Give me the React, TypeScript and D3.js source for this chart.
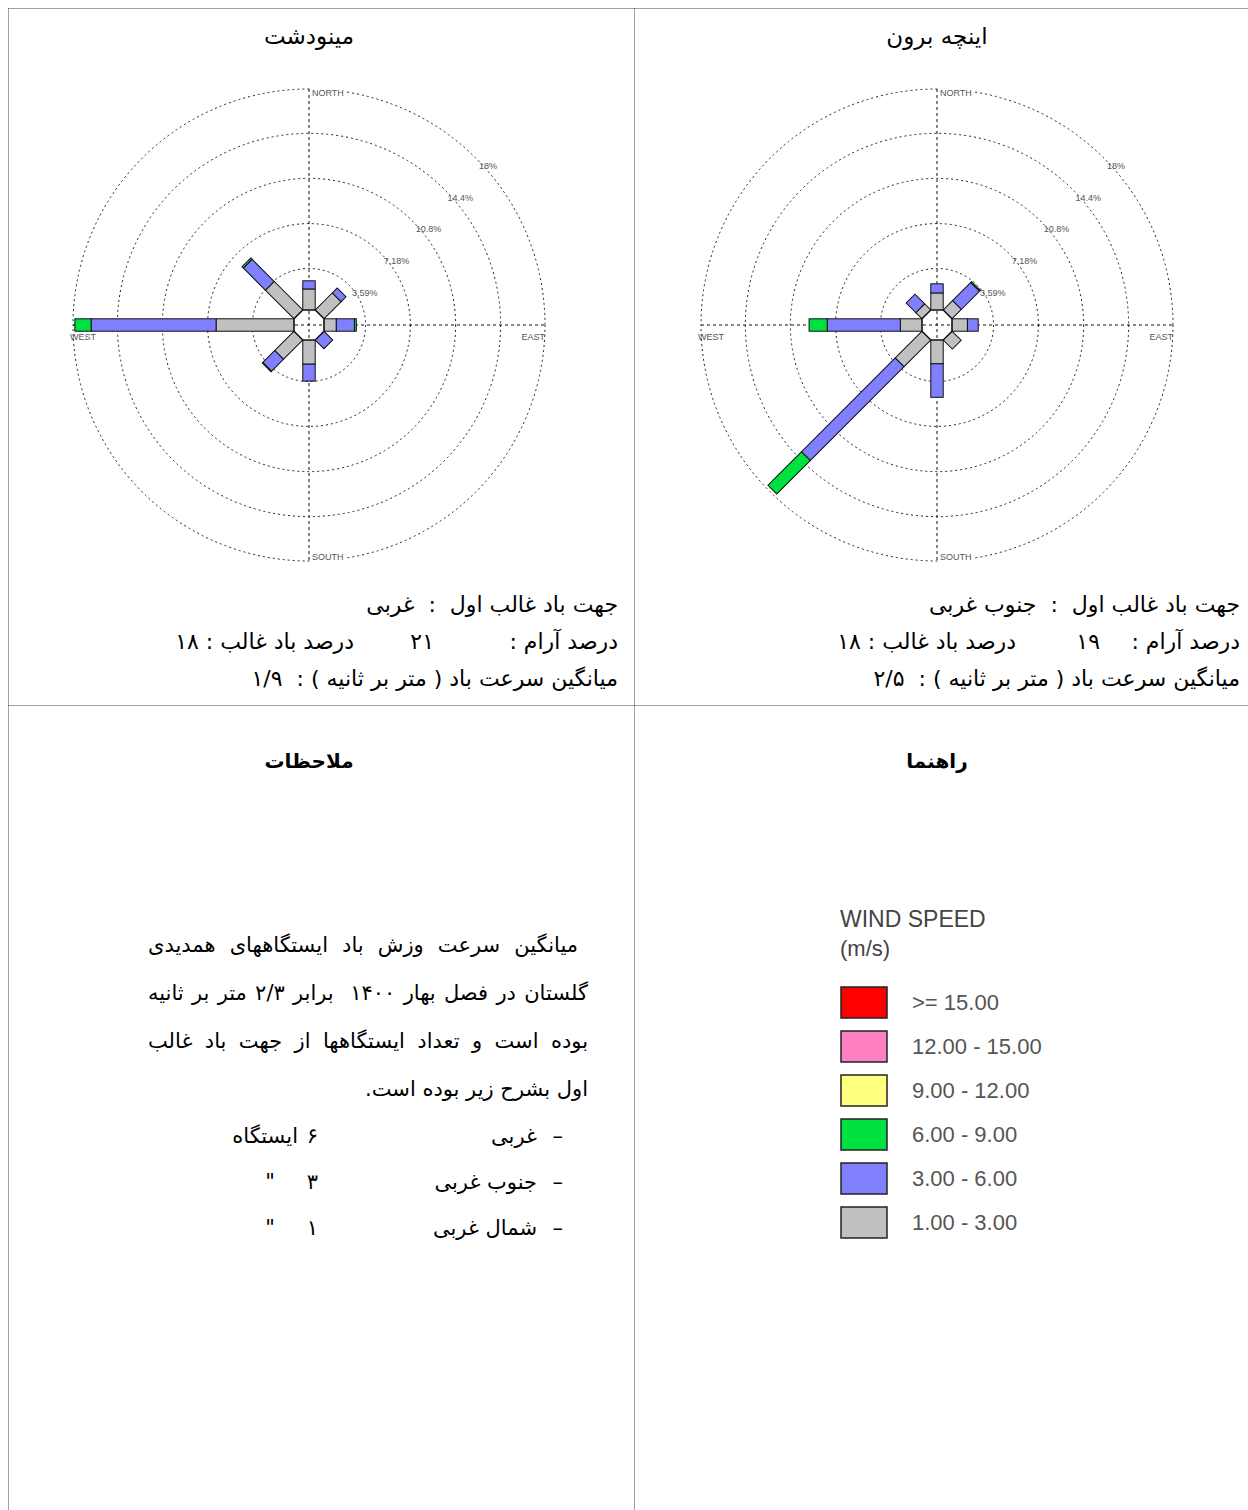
import React, { useEffect, useRef } from "react";
import * as d3 from "d3";

// wind directions, clockwise from north
const directions = ["N", "NE", "E", "SE", "S", "SW", "W", "NW"];
const directionAngles = [0, 45, 90, 135, 180, 225, 270, 315];

// speed classes (m/s) and their colours, slowest first
const speedBins = ["1.00 - 3.00", "3.00 - 6.00", "6.00 - 9.00", "9.00 - 12.00", "12.00 - 15.00", ">= 15.00"];
const speedColors = ["#c0c0c0", "#8080ff", "#00e040", "#ffff80", "#ff80c0", "#ff0000"];

// frequency (%) per direction N..NW for each speed class — Minudasht
const minudashtSlow = [1.95, 2.2, 1.25, 0.2, 2.2, 2.45, 6.5, 3.5];
const minudashtMid = [0.65, 0.55, 1.45, 1.05, 1.35, 1.35, 10.0, 2.5];
const minudashtFast = [0, 0, 0.15, 0, 0, 0.05, 1.3, 0.15];

// Incheh Borun
const inchehSlow = [1.63, 1.33, 1.5, 1.3, 2.17, 3.3, 2.0, 0.96];
const inchehMid = [0.73, 2.05, 0.86, 0, 2.68, 10.6, 5.85, 1.1];
const inchehFast = [0, 0.1, 0, 0, 0, 3.8, 1.45, 0];

const ringTicks = [3.59, 7.18, 10.8, 14.4, 17.95];
const ringLabels = ["3.59%", "7.18%", "10.8%", "14.4%", "18%"];

// station text
const stationNames = ["مینودشت", "اینچه برون"];
const prevailingDir = ["غربی", "جنوب غربی"];
const calmPercent = ["۲۱", "۱۹"];
const prevailingPercent = ["۱۸", "۱۸"];
const meanSpeed = ["۱/۹", "۲/۵"];

const noteLines = [
  "میانگین سرعت وزش باد ایستگاههای همدیدی",
  "گلستان در فصل بهار ۱۴۰۰  برابر ۲/۳ متر بر ثانیه",
  "بوده است و تعداد ایستگاهها از جهت باد غالب",
  "اول بشرح زیر بوده است.",
];
const noteDirections = ["غربی", "جنوب غربی", "شمال غربی"];
const noteCounts = ["۶", "۳", "۱"];
const noteUnits = ["ایستگاه", "\"", "\""];

const FA = "'DejaVu Sans', sans-serif";
const LAT = "'Liberation Sans', Arial, sans-serif";

const rScale = d3.scaleLinear().domain([0, 17.95]).range([11.7, 236]);
const hubApothem = 15;
const barHalf = hubApothem * Math.tan(Math.PI / 8);

type G = d3.Selection<SVGGElement, unknown, null, undefined>;

function drawRose(parent: G, cx: number, cy: number, series: number[][]) {
  const rose = parent.append("g").attr("transform", `translate(${cx},${cy})`);
  const R = rScale(ringTicks[ringTicks.length - 1]);

  rose
    .selectAll("circle.ring")
    .data(ringTicks)
    .join("circle")
    .attr("class", "ring")
    .attr("r", (d) => rScale(d))
    .attr("fill", "none")
    .attr("stroke", "#222")
    .attr("stroke-width", 1)
    .attr("stroke-dasharray", "2,3");

  rose.append("line").attr("x1", -R).attr("x2", R).attr("y1", 0).attr("y2", 0)
    .attr("stroke", "#111").attr("stroke-width", 1).attr("stroke-dasharray", "3,3");
  rose.append("line").attr("x1", 0).attr("x2", 0).attr("y1", -R).attr("y2", R)
    .attr("stroke", "#111").attr("stroke-width", 1).attr("stroke-dasharray", "3,3");

  // ring labels
  rose
    .selectAll("text.ringlab")
    .data(ringTicks)
    .join("text")
    .attr("class", "ringlab")
    .attr("x", (d) => rScale(d) * Math.SQRT1_2 + 3)
    .attr("y", (d) => -rScale(d) * Math.SQRT1_2 + 11)
    .attr("font-family", LAT)
    .attr("font-size", 9)
    .attr("fill", "#555")
    .text((_, i) => ringLabels[i]);

  // compass labels
  const compass = [
    { t: "NORTH", x: 3, y: -R + 7, anchor: "start" },
    { t: "SOUTH", x: 3, y: R - 1, anchor: "start" },
    { t: "WEST", x: -R - 3, y: 15, anchor: "start" },
    { t: "EAST", x: R, y: 15, anchor: "end" },
  ];
  compass.forEach((c) => {
    if (c.t === "NORTH" || c.t === "SOUTH") {
      rose.append("rect").attr("x", c.x - 1).attr("y", c.y - 8).attr("width", 35).attr("height", 10).attr("fill", "#fff");
    }
    rose.append("text").attr("x", c.x).attr("y", c.y).attr("text-anchor", c.anchor)
      .attr("font-family", LAT).attr("font-size", 9).attr("fill", "#555").text(c.t);
  });

  // stacked bars
  directions.forEach((_, i) => {
    const bar = rose.append("g").attr("transform", `rotate(${directionAngles[i]})`);
    let cum = 0;
    series.forEach((vals, k) => {
      const v = vals[i];
      if (!v) return;
      const r1 = Math.max(hubApothem, rScale(cum));
      cum += v;
      const r2 = rScale(cum);
      bar.append("rect")
        .attr("x", -barHalf).attr("y", -r2)
        .attr("width", barHalf * 2).attr("height", r2 - r1)
        .attr("fill", speedColors[k])
        .attr("stroke", "#111").attr("stroke-width", 1);
    });
  });

  // calm hub
  const rv = hubApothem / Math.cos(Math.PI / 8);
  const pts = d3.range(8).map((k) => {
    const a = ((22.5 + 45 * k) * Math.PI) / 180;
    return [rv * Math.sin(a), -rv * Math.cos(a)];
  });
  rose.append("polygon").attr("points", pts.map((p) => p.join(",")).join(" "))
    .attr("fill", "none").attr("stroke", "#111").attr("stroke-width", 1.2);
}

function faText(g: G, x: number, y: number, s: string, size = 22, anchor = "start", bold = false) {
  return g.append("text")
    .attr("x", x).attr("y", y)
    .attr("direction", "rtl")
    .attr("text-anchor", anchor)
    .attr("font-family", FA)
    .attr("font-size", size)
    .attr("font-weight", bold ? "bold" : "normal")
    .attr("fill", "#000")
    .style("white-space", "pre")
    .text(s);
}

const App: React.FC = () => {
  const svgRef = useRef<SVGSVGElement>(null);

  useEffect(() => {
    if (!svgRef.current) return;
    const svg = d3.select(svgRef.current);
    svg.selectAll("*").remove();
    const root = svg.append("g") as unknown as G;

    // table grid
    const grid = [
      [8.5, 8.5, 1248, 8.5],
      [8.5, 8.5, 8.5, 1510],
      [634.5, 8.5, 634.5, 1510],
      [8.5, 705.5, 1248, 705.5],
    ];
    grid.forEach(([x1, y1, x2, y2]) =>
      root.append("line").attr("x1", x1).attr("y1", y1).attr("x2", x2).attr("y2", y2)
        .attr("stroke", "#444").attr("stroke-width", 1).attr("stroke-dasharray", "1,1")
    );

    const centers = [309, 937];
    const rights = [618, 1240];
    const calmRights = [434, 1100];
    const prevRights = [354, 1016];
    const roseData = [
      [minudashtSlow, minudashtMid, minudashtFast],
      [inchehSlow, inchehMid, inchehFast],
    ];

    centers.forEach((cx, s) => {
      faText(root, cx, 44, stationNames[s], 23, "middle");
      drawRose(root, cx, 325, roseData[s]);
      faText(root, rights[s], 612, `جهت باد غالب اول  :  ${prevailingDir[s]}`);
      faText(root, rights[s], 649, "درصد آرام :");
      faText(root, calmRights[s], 649, calmPercent[s]);
      faText(root, prevRights[s], 649, `درصد باد غالب : ${prevailingPercent[s]}`);
      faText(root, rights[s], 686, `میانگین سرعت باد ( متر بر ثانیه ) :  ${meanSpeed[s]}`);
    });

    // notes cell
    faText(root, 309, 768, "ملاحظات", 20, "middle", true);
    const noteRight = [578, 588, 588, 588];
    noteLines.forEach((line, i) => {
      const t = faText(root, noteRight[i], 952 + i * 48, line, 21);
      if (i < 3) {
        const node = t.node() as SVGTextElement;
        const natural = node.getComputedTextLength();
        const spaces = (line.match(/ /g) || []).length;
        const target = noteRight[i] - 148;
        if (spaces > 0 && target > natural) t.attr("word-spacing", (target - natural) / spaces);
      }
    });
    noteDirections.forEach((d, i) => {
      const y = 1143 + i * 46;
      faText(root, 563, y, "–", 21);
      faText(root, 537, y, d, 21);
      faText(root, 318, y, noteCounts[i], 21);
      faText(root, i === 0 ? 298 : 275, y, noteUnits[i], 21);
    });

    // legend cell
    faText(root, 937, 768, "راهنما", 20, "middle", true);
    const legend = root.append("g");
    legend.append("text").attr("x", 840).attr("y", 927).attr("font-family", LAT)
      .attr("font-size", 23).attr("fill", "#444").text("WIND SPEED");
    legend.append("text").attr("x", 840).attr("y", 956).attr("font-family", LAT)
      .attr("font-size", 22).attr("fill", "#444").text("(m/s)");
    const order = d3.range(speedBins.length).reverse();
    const yPos = d3.scaleBand<number>().domain(order).range([987, 987 + 44 * order.length]);
    legend.selectAll("rect.sw").data(order).join("rect").attr("class", "sw")
      .attr("x", 841).attr("y", (d) => yPos(d) as number)
      .attr("width", 46).attr("height", 31)
      .attr("fill", (d) => speedColors[d]).attr("stroke", "#222").attr("stroke-width", 1.5);
    legend.selectAll("text.sl").data(order).join("text").attr("class", "sl")
      .attr("x", 912).attr("y", (d) => (yPos(d) as number) + 23)
      .attr("font-family", LAT).attr("font-size", 22).attr("fill", "#555")
      .text((d) => speedBins[d]);
  }, []);

  return (
    <svg
      ref={svgRef}
      width={1248}
      height={1510}
      style={{ position: "absolute", left: 0, top: 0, background: "#fff" }}
    />
  );
};

export default App;
